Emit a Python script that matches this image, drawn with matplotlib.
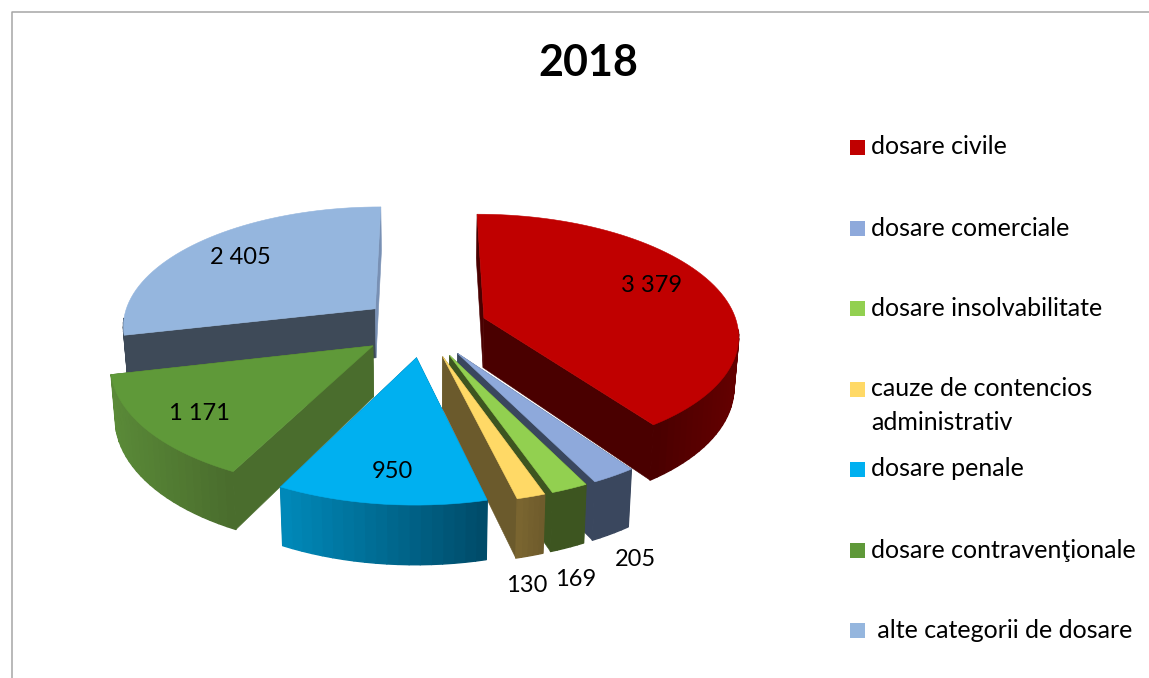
import math
import matplotlib
matplotlib.use('Agg')
import matplotlib.pyplot as plt
import numpy as np
from matplotlib.collections import PolyCollection
from matplotlib.colors import to_rgb
from matplotlib.patches import Polygon, Rectangle

plt.rcParams['font.family'] = ['Lato', 'DejaVu Sans']

title = '2018'
categories = ['dosare civile', 'dosare comerciale', 'dosare insolvabilitate',
              'cauze de contencios\nadministrativ', 'dosare penale',
              'dosare contravenţionale', ' alte categorii de dosare']
values = [3379, 205, 169, 130, 950, 1171, 2405]
value_labels = ['3 379', '205', '169', '130', '950', '1 171', '2 405']

# culori: fata de sus, fata taiata (inceput / sfarsit), arc (stanga -> dreapta)
top_colors = ['#C00000', '#8EA9DB', '#92D050', '#FFD966', '#00B0F0', '#5F9939', '#95B6DE']
cut_start = ['#4A0000', '#3A475E', '#3D5520', '#6B5A2C', '#00587A', '#4A6D2D', '#3E4A58']
cut_end = ['#4A0000', '#3A475E', '#3D5520', '#6B5A2C', '#00587A', '#4A6D2D', '#7890B4']
arc_colors = [('#4A0000', '#640000'), ('#3A475E', '#3A475E'), ('#3D5520', '#3D5520'),
              ('#7A6530', '#6F5C2C'), ('#0088B8', '#004C6A'), ('#5A8A38', '#4A6D2D'),
              ('#3E4A58', '#3E4A58')]
EXPLODE = 0.25

# proiectia pie-ului 3D, in pixeli
CX, CY = 424, 327
RX, RY = 254, 119.5
PERSP = 0.13
DEPTH = 50
BOTTOM_SHRINK = 0.985
draw_order = [6, 5, 0, 1, 2, 3, 4]

label_pos = [(652, 285), (635, 560), (576, 579), (527, 586), (392, 472), (199, 414), (240, 257)]
legend_x = 850
legend_y = [147, 228, 308, 389, 469, 550, 630]


def project(px, py, bottom=False):
    """punct din planul pie-ului (raza = 1) -> pixeli"""
    s = 1 / (1 + PERSP * py)
    if bottom:
        return CX + RX * px * s * BOTTOM_SHRINK, CY + (-RY * py + DEPTH) * s
    return CX + RX * px * s, CY - RY * py * s


fig = plt.figure(figsize=(11.49, 6.78), dpi=100)
ax = fig.add_axes([0, 0, 1, 1])
ax.set_xlim(0, 1149)
ax.set_ylim(678, 0)
ax.axis('off')

# rama graficului (doar sus si stanga se vad)
ax.plot([12, 12, 1149], [678, 11.5, 11.5], color='#A6A6A6', lw=1.1, zorder=0)

angles = np.cumsum([0] + values) / sum(values) * 2 * math.pi

for z, i in enumerate(draw_order):
    a0, a1 = angles[i], angles[i + 1]
    mid = (a0 + a1) / 2
    ex, ey = EXPLODE * math.sin(mid), EXPLODE * math.cos(mid)
    thetas = np.linspace(a0, a1, max(6, int(math.degrees(a1 - a0) / 2)))
    wx, wy = ex + np.sin(thetas), ey + np.cos(thetas)
    tx, ty = project(wx, wy)
    bx, by = project(wx, wy, bottom=True)
    ox, oy = project(ex, ey)
    ox2, oy2 = project(ex, ey, bottom=True)
    zz = 2 * z + 1

    # fetele taiate
    for e, col in ((0, cut_start[i]), (-1, cut_end[i])):
        quad = [(ox, oy), (tx[e], ty[e]), (bx[e], by[e]), (ox2, oy2)]
        ax.add_patch(Polygon(quad, closed=True, fc=col, ec=col, lw=0.4, zorder=zz))

    # arcul, doar partea din fata
    quads, cols = [], []
    c_left, c_right = np.array(to_rgb(arc_colors[i][0])), np.array(to_rgb(arc_colors[i][1]))
    keep = [k for k in range(len(thetas) - 1) if math.cos(thetas[k]) < -0.1]
    if keep:
        xs = tx[keep]
        for k in keep:
            quads.append([(tx[k], ty[k]), (tx[k + 1], ty[k + 1]), (bx[k + 1], by[k + 1]), (bx[k], by[k])])
            t = (tx[k] - xs.min()) / max(xs.max() - xs.min(), 1)
            cols.append(c_left + (c_right - c_left) * t)
        ax.add_collection(PolyCollection(quads, facecolors=cols, edgecolors=cols, linewidths=1.0, zorder=zz))

    # fata de sus
    pts = [(ox, oy)] + list(zip(tx, ty))
    ax.add_patch(Polygon(pts, closed=True, fc=top_colors[i], ec=top_colors[i], lw=0.4, zorder=zz + 0.5))

for lab, (lx, ly) in zip(value_labels, label_pos):
    ax.text(lx, ly, lab, fontsize=17, ha='center', va='center', color='black', zorder=50)

ax.text(588, 63, title, fontsize=31, fontweight='bold', ha='center', va='center', color='black')

# legenda
for cat, col, y in zip(categories, top_colors, legend_y):
    ax.add_patch(Rectangle((legend_x, y - 7.5), 15, 15, fc=col, ec='none'))
    lines = cat.split('\n')
    ax.text(legend_x + 21, y, lines[0], fontsize=18, ha='left', va='center', color='black')
    if len(lines) > 1:
        ax.text(legend_x + 21, y + 33, lines[1], fontsize=18, ha='left', va='center', color='black')

fig.savefig('out.png', dpi=100, facecolor='white')
